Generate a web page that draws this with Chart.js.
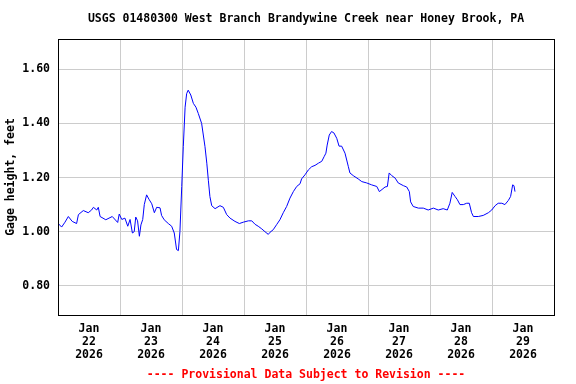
<!DOCTYPE html>
<html lang="en">
<head>
    <meta charset="UTF-8">
    <title>USGS 01480300 Gage Height</title>
    <style>
        body {
            margin: 0;
            padding: 0;
            background: #fff;
        }
        #gageChart {
            display: block;
        }
    </style>
</head>
<body>
    <canvas id="gageChart" width="576" height="384"></canvas>

    <script src="https://cdn.jsdelivr.net/npm/chart.js"></script>
    <script>
        // hours since Jan 22 2026 00:00
        var hours = [
            0.1, 1.4, 2.7, 4.0, 5.5, 7.2, 7.9, 9.8, 11.7, 13.0, 13.7, 15.0, 15.6, 16.3, 18.5,
            21.0, 23.1, 23.7, 24.7, 25.9, 27.0, 27.9, 28.8, 29.5, 30.1, 30.8, 31.5, 32.1, 32.8,
            33.4, 34.3, 35.2, 36.3, 37.3, 38.2, 39.5, 40.1, 41.1, 42.7, 44.0, 45.0, 45.9, 46.6,
            47.2, 47.9, 48.5, 49.2, 49.8, 50.4, 51.4, 52.4, 53.4, 54.3, 55.6, 56.9, 57.6, 58.2,
            58.8, 59.5, 60.8, 62.7, 64.0, 65.3, 66.6, 68.5, 70.2, 71.7, 73.7, 75.0, 76.3, 77.5,
            78.9, 80.1, 81.4, 82.1, 83.3, 84.7, 85.9, 87.2, 88.5, 89.8, 91.1, 92.4, 93.7, 94.3,
            95.6, 96.9, 98.2, 99.5, 100.8, 102.1, 103.0, 103.7, 104.2, 105.0, 105.9, 106.8,
            107.9, 108.8, 109.8, 111.1, 112.4, 113.0, 114.3, 116.2, 117.6, 119.5, 121.4, 123.4,
            124.4, 126.6, 127.5, 128.2, 129.2, 130.5, 131.7, 133.7, 135.0, 136.0, 136.5, 137.5,
            139.5, 141.4, 143.3, 145.3, 147.2, 149.1, 150.7, 151.7, 152.6, 153.7, 154.6, 155.6,
            156.9, 158.2, 159.2, 160.1, 160.8, 162.7, 164.6, 166.6, 167.9, 169.2, 170.4, 171.8,
            173.0, 174.3, 175.2, 176.0, 176.5, 176.9
        ];
        var gageFeet = [
            1.03, 1.017, 1.035, 1.056, 1.038, 1.03, 1.063, 1.078, 1.07, 1.08, 1.09, 1.08, 1.09, 1.056, 1.044,
            1.056, 1.034, 1.065, 1.045, 1.05, 1.02, 1.045, 0.995, 1.00, 1.054, 1.04, 0.983, 1.025, 1.045,
            1.10, 1.136, 1.12, 1.103, 1.07, 1.09, 1.088, 1.06, 1.044, 1.03, 1.02, 0.995, 0.934, 0.93,
            1.00, 1.167, 1.314, 1.46, 1.51, 1.523, 1.505, 1.474, 1.46, 1.437, 1.40, 1.314, 1.253, 1.19,
            1.13, 1.096, 1.085, 1.096, 1.09, 1.063, 1.05, 1.038, 1.03, 1.035, 1.04, 1.04, 1.027, 1.02,
            1.01, 1.00, 0.99, 0.998, 1.007, 1.027, 1.044, 1.07, 1.093, 1.124, 1.148, 1.167, 1.177, 1.195,
            1.21, 1.228, 1.24, 1.245, 1.253, 1.26, 1.277, 1.29, 1.32, 1.357, 1.37, 1.365,
            1.345, 1.316, 1.316, 1.29, 1.24, 1.217, 1.207, 1.195, 1.185, 1.18, 1.173, 1.167,
            1.148, 1.165, 1.167, 1.217, 1.207, 1.198, 1.18, 1.17, 1.165, 1.148, 1.11, 1.093,
            1.087, 1.087, 1.08, 1.087, 1.08, 1.085, 1.08, 1.105, 1.145, 1.13, 1.118, 1.10,
            1.10, 1.105, 1.105, 1.07, 1.056, 1.056, 1.06, 1.07, 1.08, 1.096, 1.105, 1.105,
            1.10, 1.115, 1.13, 1.173, 1.17, 1.148
        ];

        // x tick labels sit at noon of each day, grid lines at midnight
        var tickHours = [12, 36, 60, 84, 108, 132, 156, 180];
        var tickDays = ['22', '23', '24', '25', '26', '27', '28', '29'];
        var yTicks = [0.80, 1.00, 1.20, 1.40, 1.60];

        var chartTitle = 'USGS 01480300 West Branch Brandywine Creek near Honey Brook, PA';
        var footNote = '---- Provisional Data Subject to Revision ----';

        var points = hours.map(function (h, i) { return { x: h, y: gageFeet[i] }; });

        var monoFont = '"DejaVu Sans Mono", "Liberation Mono", monospace';

        // frame round the plot, plus title and footnote centred over the plot area
        var frame = {
            id: 'frame',
            afterDraw: function (chart) {
                var a = chart.chartArea;
                var c = chart.ctx;
                var mid = (a.left + a.right) / 2;
                c.save();
                c.strokeStyle = '#000';
                c.lineWidth = 1;
                c.strokeRect(Math.round(a.left) + 0.5, Math.round(a.top) + 0.5,
                    Math.round(a.right - a.left), Math.round(a.bottom - a.top));
                c.font = 'bold 11.5px ' + monoFont;
                c.textAlign = 'center';
                c.textBaseline = 'middle';
                c.fillStyle = '#000';
                c.fillText(chartTitle, mid, 19.5);
                c.fillStyle = '#ff0000';
                c.fillText(footNote, mid, 375.5);
                c.restore();
            }
        };

        var ctx = document.getElementById('gageChart').getContext('2d');
        var gageChart = new Chart(ctx, {
            type: 'line',
            data: {
                datasets: [{
                    label: 'Gage height',
                    data: points,
                    borderColor: '#0000ff',
                    borderWidth: 1,
                    pointRadius: 0,
                    tension: 0,
                    fill: false
                }]
            },
            options: {
                responsive: false,
                animation: false,
                layout: { padding: { left: 0, right: 22, top: 39, bottom: 17 } },
                plugins: {
                    legend: { display: false },
                    tooltip: { enabled: false },
                    title: { display: false }
                },
                scales: {
                    x: {
                        type: 'linear',
                        min: 0,
                        max: 192,
                        afterBuildTicks: function (scale) {
                            scale.ticks = tickHours.map(function (v) { return { value: v }; });
                        },
                        afterFit: function (scale) { scale.height = 52; },
                        grid: { color: '#cccccc', offset: true, drawTicks: false },
                        border: { display: false },
                        ticks: {
                            autoSkip: false,
                            maxRotation: 0,
                            padding: 8,
                            color: '#000',
                            font: { family: monoFont, size: 11.5, weight: 'bold', lineHeight: 1.13 },
                            callback: function (value) {
                                var i = tickHours.indexOf(value);
                                return ['Jan', tickDays[i], '2026'];
                            }
                        }
                    },
                    y: {
                        min: 0.692,
                        max: 1.712,
                        afterBuildTicks: function (scale) {
                            scale.ticks = yTicks.map(function (v) { return { value: v }; });
                        },
                        afterFit: function (scale) { scale.width = 58; },
                        grid: { color: '#cccccc', drawTicks: false },
                        border: { display: false },
                        title: {
                            display: true,
                            text: 'Gage height, feet',
                            color: '#000',
                            font: { family: monoFont, size: 11.5, weight: 'bold', lineHeight: 1.2 },
                            padding: { top: 4, bottom: 0 }
                        },
                        ticks: {
                            padding: 8,
                            color: '#000',
                            font: { family: monoFont, size: 11.5, weight: 'bold' },
                            callback: function (value) { return value.toFixed(2); }
                        }
                    }
                }
            },
            plugins: [frame]
        });
    </script>
</body>
</html>
